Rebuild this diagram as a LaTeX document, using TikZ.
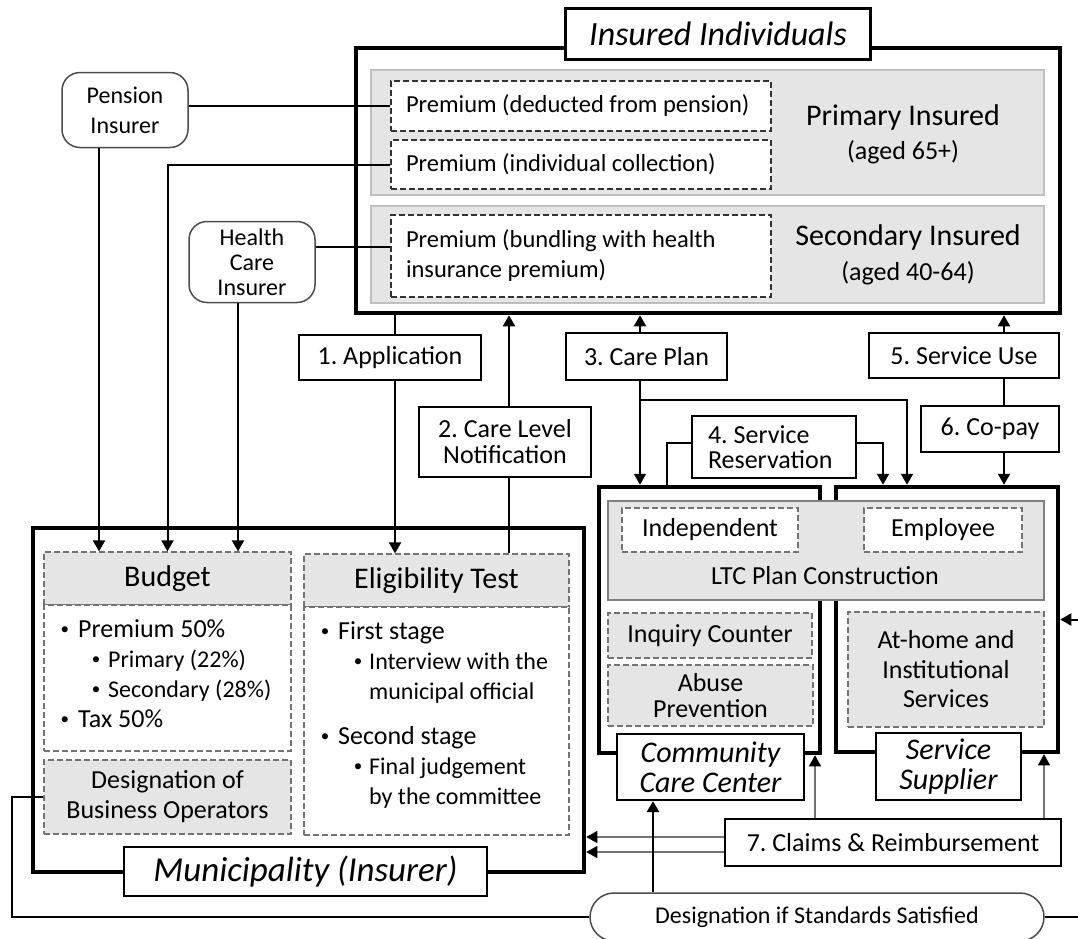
\documentclass[tikz,border=0pt]{standalone}
\usepackage{fontspec}
\setmainfont{Carlito}
\usetikzlibrary{arrows.meta}
\frenchspacing
\newcommand{\fs}[2]{\fontsize{#1}{#2}\selectfont}
% indent, bullet box, text
\newcommand{\bul}[3]{\hspace*{#1}\makebox[#2][l]{\raisebox{3pt}{\fs{17}{17}\textbullet}}#3}
\begin{document}
\begin{tikzpicture}[x=1pt,y=-1pt,
  thickbox/.style={draw,line width=4.5pt,inner sep=0pt},
  titlebox/.style={draw,line width=2.2pt,fill=white,inner sep=0pt,align=center,font=\itshape\fs{34}{34}},
  lblbox/.style={draw,line width=2pt,fill=white,inner sep=0pt,align=center,font=\fs{26}{26}},
  greyband/.style={draw=black!25,line width=1.2pt,fill=black!10,inner sep=0pt},
  dashbox/.style={draw=black!80,line width=1.2pt,dash pattern=on 6pt off 3pt,fill=white,inner sep=0pt},
  prembox/.style={dashbox,minimum width=380pt,align=left,font=\fs{24.5}{30}},
  greydash/.style={draw=black!55,line width=1.2pt,dash pattern=on 6pt off 3pt,fill=black!10,inner sep=0pt,align=center,font=\fs{26}{30}},
  insurer/.style={draw=black!70,line width=1.5pt,rounded corners=18pt,fill=white,inner sep=0pt,align=center},
  arr/.style={line width=2pt,-{Triangle[length=11pt,width=12pt]}},
  thinarr/.style={draw=black!55,line width=1.2pt,-{Triangle[black,length=11pt,width=12pt]}}]
\useasboundingbox (0,0) rectangle (1078,938);
%insured individuals
\node[thickbox,minimum width=704pt,minimum height=265pt] (insured) at (708,180.5) {};
\node[greyband,minimum width=673pt,minimum height=125pt] (primband) at (707.5,132.5) {};
\node[greyband,minimum width=673pt,minimum height=97pt] (secband) at (707.5,254.5) {};
\node[prembox,minimum height=50pt] (prem1) at (581,106) {\makebox[350pt][l]{Premium (deducted from pension)}};
\node[prembox,minimum height=49pt] (prem2) at (581,164.5) {\makebox[350pt][l]{Premium (individual collection)}};
\node[prembox,minimum height=82pt] (prem3) at (581,256) {\makebox[350pt][l]{Premium (bundling with health}\\insurance premium)};
\node[align=center,font=\fs{30}{34}] (primtxt) at (903,134) {Primary Insured\\{\fs{26}{34}(aged 65+)}};
\node[align=center,font=\fs{30}{35}] (sectxt) at (908,254.5) {Secondary Insured\\{\fs{26}{35}(aged 40-64)}};
\node[titlebox,minimum width=305pt,minimum height=51pt] (insuredtitle) at (718,34) {Insured Individuals};
%insurers
\node[insurer,minimum width=126pt,minimum height=75pt,font=\fs{24}{30}] (pension) at (125,110) {Pension\\Insurer};
\node[insurer,minimum width=126pt,minimum height=81pt,font=\fs{24}{25}] (health) at (252,262) {Health\\Care\\Insurer};
%municipality
\node[thickbox,minimum width=551pt,minimum height=344pt] (munic) at (308.5,700) {};
\node[greydash,minimum width=247pt,minimum height=53pt,font=\fs{30}{30}] (budgethead) at (167.5,578.5) {Budget};
\node[greydash,fill=white,minimum width=247pt,minimum height=146pt] (budgetbody) at (167.5,678) {};
\node[greydash,minimum width=247pt,minimum height=74pt] (desig) at (167.5,797) {Designation of\\Business Operators};
\node[greydash,minimum width=265pt,minimum height=53pt,font=\fs{30}{30}] (elighead) at (436.5,580.5) {Eligibility Test};
\node[greydash,fill=white,minimum width=265pt,minimum height=228pt] (eligbody) at (436.5,721) {};
\node[anchor=north west,inner sep=0pt,align=left,font=\fs{26}{30}] (budgettxt) at (60.5,619)
  {\bul{0pt}{17.5pt}{Premium 50\%}\\
   {\fs{24}{30}\bul{31.25pt}{16.25pt}{Primary (22\%)}}\\
   {\fs{24}{30}\bul{31.25pt}{16.25pt}{Secondary (28\%)}}\\
   \bul{0pt}{17.5pt}{Tax 50\%}};
\node[anchor=north west,inner sep=0pt,align=left,font=\fs{26}{30}] (eligtxt) at (320.75,621)
  {\bul{0pt}{17.25pt}{First stage}\\
   {\fs{24}{30}\bul{33pt}{15.25pt}{Interview with the}}\\
   {\fs{24}{30}\hspace*{48.25pt}municipal official}\\[15pt]
   \bul{0pt}{17.25pt}{Second stage}\\
   {\fs{24}{30}\bul{33pt}{15.25pt}{Final judgement}}\\
   {\fs{24}{30}\hspace*{48.25pt}by the committee}};
\node[titlebox,minimum width=363pt,minimum height=49pt,font=\itshape\fs{35}{35}] (munictitle) at (305.5,871.5) {Municipality (Insurer)};
%steps
\node[lblbox,minimum width=182pt,minimum height=45pt] (app) at (390,357.5) {1. Application};
\node[lblbox,minimum width=172pt,minimum height=70pt] (carelvl) at (505,442) {2. Care Level\\Notification};
\node[lblbox,minimum width=161pt,minimum height=47pt] (careplan) at (646.5,356.5) {3. Care Plan};
\node[lblbox,minimum width=164pt,minimum height=62pt,align=left,font=\fs{26}{25}] (reserv) at (774,447) {\makebox[132pt][l]{4. Service}\\Reservation};
\node[lblbox,minimum width=190pt,minimum height=45pt] (servuse) at (964,355.5) {5. Service Use};
\node[lblbox,minimum width=138pt,minimum height=46pt] (copay) at (990,429) {6. Co-pay};
%community care center and service supplier
\node[thickbox,minimum width=221pt,minimum height=266pt] (ccc) at (709.5,620) {};
\node[thickbox,minimum width=222pt,minimum height=265pt] (ss) at (947,619.5) {};
\node[draw=black!50,line width=1.5pt,fill=black!10,inner sep=0pt,minimum width=436pt,minimum height=99pt] (ltc) at (826,550.5) {};
\node[font=\fs{26}{26}] (ltctxt) at (825,576) {LTC Plan Construction};
\node[dashbox,draw=black!55,minimum width=176pt,minimum height=44pt,font=\fs{26}{26}] (indep) at (710,530) {Independent};
\node[dashbox,draw=black!55,minimum width=158pt,minimum height=44pt,font=\fs{26}{26}] (employee) at (943,530) {Employee};
\node[greydash,minimum width=204pt,minimum height=45pt] (inquiry) at (710,635.5) {Inquiry Counter};
\node[greydash,minimum width=205pt,minimum height=61pt,font=\fs{26}{26}] (abuse) at (710.5,695.5) {Abuse\\Prevention};
\node[greydash,minimum width=196pt,minimum height=115pt,font=\fs{26}{29.5}] (athome) at (946,669.5) {At-home and\\Institutional\\Services};
\node[titlebox,minimum width=187pt,minimum height=66pt,font=\itshape\fs{30}{30}] (ccctitle) at (710.5,767) {Community\\Care Center};
\node[titlebox,minimum width=145pt,minimum height=67pt,font=\itshape\fs{30}{30}] (sstitle) at (948.5,766.5) {Service\\Supplier};
\node[lblbox,minimum width=336pt,minimum height=47pt] (claims) at (893,842.5) {7. Claims \& Reimbursement};
\node[draw=black!70,line width=1.5pt,rounded corners=24pt,fill=white,inner sep=0pt,minimum width=454pt,minimum height=48pt,font=\fs{24}{24}] (pill) at (817,917) {Designation if Standards Satisfied};
%premium flows
\draw[line width=2pt] (prem1.west) -- (prem1.west -| pension.east);
\draw[line width=2pt] ([yshift=9pt]prem3.west) -- ([yshift=9pt]prem3.west -| health.east);
\draw[arr] (prem2.west) -| (budgethead.north);
\draw[arr] ([xshift=-26pt]pension.south) -- ([xshift=-26pt]pension.south |- budgethead.north);
\draw[arr] ([xshift=-14pt]health.south) -- ([xshift=-14pt]health.south |- budgethead.north);
%application and care level
\draw[line width=2pt] ([xshift=5pt]app.north) -- ([xshift=5pt]app.north |- insured.south);
\draw[arr] ([xshift=5pt]app.south) -- ([xshift=5pt]app.south |- elighead.north);
\draw[line width=2pt] ([xshift=4pt]carelvl.south) -- ([xshift=4pt]carelvl.south |- elighead.north);
\draw[arr] ([xshift=4pt]carelvl.north) -- ([xshift=4pt]carelvl.north |- insured.south);
%care plan
\coordinate (cpbranch) at ([xshift=-6.5pt]careplan.south |- 0,400);
\draw[arr] ([xshift=-6.5pt]careplan.north) -- ([xshift=-6.5pt]careplan.north |- insured.south);
\draw[arr] ([xshift=-6.5pt]careplan.south) -- ([xshift=-6.5pt]careplan.south |- ccc.north);
\draw[arr] (cpbranch) -| ([xshift=-40pt]ss.north);
%service reservation
\draw[line width=2pt] ([yshift=4pt]reserv.west) -| ([xshift=-42.5pt]ccc.north);
\draw[arr] ([yshift=4pt]reserv.east) -| ([xshift=-64pt]ss.north);
%service use and co-pay
\draw[arr] ([xshift=40pt]servuse.north) -- ([xshift=40pt]servuse.north |- insured.south);
\draw[line width=2pt] ([xshift=40pt]servuse.south) -- ([xshift=14pt]copay.north);
\draw[arr] ([xshift=14pt]copay.south) -- ([xshift=14pt]copay.south |- ss.north);
%claims
\draw[thinarr] ([xshift=-78pt]claims.north) -- ([xshift=-78pt]claims.north |- ccc.south);
\draw[thinarr] ([xshift=151pt]claims.north) -- ([xshift=151pt]claims.north |- ss.south);
\draw[thinarr] ([yshift=5.5pt]claims.west) -- ([yshift=5.5pt]claims.west -| munic.east);
\draw[thinarr] ([yshift=-9.5pt]claims.west) -- ([yshift=-9.5pt]claims.west -| munic.east);
%designation
\draw[arr,line width=2.5pt] ([xshift=-164pt]pill.north) -- ([xshift=-164pt]pill.north |- ccctitle.south);
\draw[line width=2pt] (desig.west) -- ++(-31,0) |- (pill.west);
\draw[arr] (pill.east) -- ++(60,0) |- (ss.east);
\end{tikzpicture}
\end{document}
